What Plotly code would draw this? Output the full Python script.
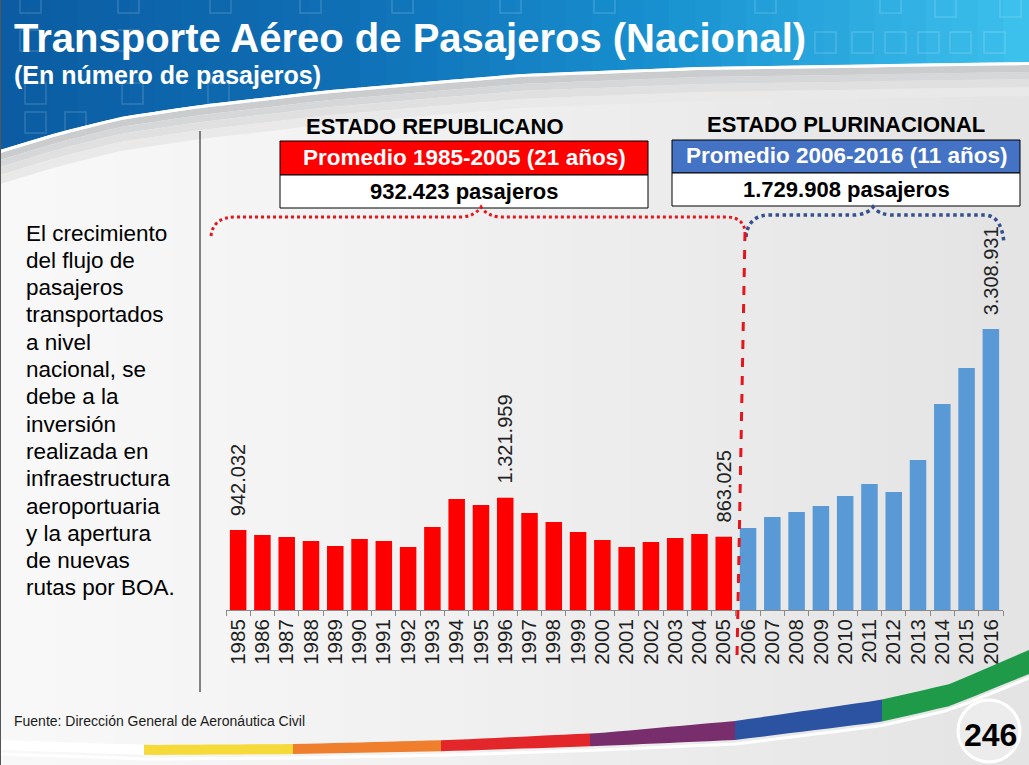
import plotly.graph_objects as go
import numpy as np

# ---------------- data ----------------
years = [str(y) for y in range(1985, 2017)]
years_rep = years[:21]
years_plu = years[21:]
pasajeros_rep = [942032, 883000, 860000, 812000, 754000, 836000, 812000, 742000,
                 977000, 1307000, 1236000, 1321959, 1142000, 1036000, 918000,
                 824000, 742000, 801000, 848000, 895000, 863025]
pasajeros_plu = [966000, 1095000, 1154000, 1225000, 1342000, 1484000, 1390000,
                 1766000, 2426000, 2850000, 3308931]
label_years = ["1985", "1996", "2005", "2016"]
label_texts = ["942.032", "1.321.959", "863.025", "3.308.931"]

title = "Transporte Aéreo de Pasajeros (Nacional)"
subtitle = "(En número de pasajeros)"
group_titles = ["ESTADO REPUBLICANO", "ESTADO PLURINACIONAL"]
group_periods = ["Promedio 1985-2005 (21 años)", "Promedio 2006-2016 (11 años)"]
group_means = ["932.423 pasajeros", "1.729.908 pasajeros"]
side_lines = ["El crecimiento", "del flujo de", "pasajeros", "transportados", "a nivel",
              "nacional, se", "debe a la", "inversión", "realizada en", "infraestructura",
              "aeroportuaria", "y la apertura", "de nuevas", "rutas por BOA."]
source = "Fuente: Dirección General de Aeronáutica Civil"
page_no = "246"

# ---------------- helpers ----------------
W, H = 1029, 765
FONT = "Liberation Sans, Arial, sans-serif"


def X(px):
    return px / W


def Y(py):
    return 1 - py / H


def hex2rgb(h):
    h = h.lstrip('#')
    return [int(h[i:i + 2], 16) for i in (0, 2, 4)]


def interp_color(x, stops):
    xs = [s[0] for s in stops]
    cs = np.array([hex2rgb(s[1]) for s in stops], dtype=float)
    r = np.interp(x, xs, cs[:, 0]); g = np.interp(x, xs, cs[:, 1]); b = np.interp(x, xs, cs[:, 2])
    return f"rgb({int(r)},{int(g)},{int(b)})"


def poly(pts):
    return "M " + " L ".join(f"{X(a):.5f},{Y(b):.5f}" for a, b in pts) + " Z"


def line_path(pts):
    return "M " + " L ".join(f"{X(a):.5f},{Y(b):.5f}" for a, b in pts)


shapes = []

# main background gradient
bg_stops = [(0, '#f9f9f9'), (450, '#f1f1f1'), (1029, '#e4e4e4')]
N = 36
for i in range(N):
    x0 = i * W / N
    x1 = (i + 1) * W / N + 1
    shapes.append(dict(type='rect', xref='paper', yref='paper', x0=X(x0), x1=X(x1), y0=0, y1=1,
                       fillcolor=interp_color((x0 + x1) / 2, bg_stops), line_width=0, layer='below'))

# header curve
cx = [0, 60, 120, 200, 330, 520, 700, 1029]
cy = [150, 132, 117, 105, 90, 74, 67, 62]


def curve(x):
    return float(np.interp(x, cx, cy))


blue_stops = [(0, '#0b5ca2'), (350, '#1070b6'), (650, '#1890d0'), (1029, '#3ec2ee')]
NB = 40
for i in range(NB):
    x0 = i * W / NB
    x1 = min((i + 1) * W / NB + 1, W)
    shapes.append(dict(type='path', xref='paper', yref='paper',
                       path=poly([(x0, 0), (x1, 0), (x1, curve(x1)), (x0, curve(x0))]),
                       fillcolor=interp_color((x0 + x1) / 2, blue_stops), line_width=0, layer='below'))

# header decorative squares
sq = [(20, -8), (118, -8), (210, -8), (300, -8), (392, -8), (500, -8), (594, -8), (755, -8), (880, -8),
      (20, 30), (118, 30), (815, 32), (852, 32), (885, 32), (918, 32), (950, 32), (984, 32),
      (25, 83), (122, 83), (208, 83), (25, 112), (65, 112), (935, -4), (1000, -4)]
for (a, b) in sq:
    shapes.append(dict(type='rect', xref='paper', yref='paper', x0=X(a), x1=X(a + 21), y0=Y(b), y1=Y(b + 21),
                       line=dict(color='rgba(255,255,255,0.16)', width=1.5), fillcolor='rgba(0,0,0,0)',
                       layer='below'))

# gray swoosh below header
xs = np.linspace(0, W, 60)
bands = [(3, 10, '#cbcccd'), (10, 17, '#d6d7d8'), (17, 25, '#e0e0e1'), (25, 34, '#e9e9ea')]
for o1, o2, col in bands:
    top = [(x, curve(x) + o1) for x in xs]
    bot = [(x, curve(x) + o2) for x in xs[::-1]]
    shapes.append(dict(type='path', xref='paper', yref='paper', path=poly(top + bot),
                       fillcolor=col, line_width=0, layer='below'))
shapes.append(dict(type='path', xref='paper', yref='paper',
                   path=line_path([(x, curve(x) + 1.5) for x in xs]),
                   line=dict(color='white', width=3), layer='below'))

# bottom coloured band
bx = [0, 150, 300, 450, 600, 735, 880, 950, 1029]
bt = [740, 745, 744, 740, 733, 721, 700, 684, 650]
bb = [750, 755, 754, 751, 746, 740, 722, 706, 674]


def btop(x):
    return float(np.interp(x, bx, bt))


def bbot(x):
    return float(np.interp(x, bx, bb))


segs = [(0, 144, '#ffffff'), (144, 293, '#f6da3a'), (293, 441, '#ef7f2c'), (441, 590, '#e2262a'),
        (590, 735, '#782e6d'), (735, 882, '#2c52a2'), (882, 1029, '#1e9a49')]
for a, b, col in segs:
    xx = np.linspace(a, b, 12)
    pts = [(x, btop(x)) for x in xx] + [(x, bbot(x)) for x in xx[::-1]]
    shapes.append(dict(type='path', xref='paper', yref='paper', path=poly(pts),
                       fillcolor=col, line_width=0, layer='below'))
xx = np.linspace(0, W, 50)
shapes.append(dict(type='path', xref='paper', yref='paper',
                   path=line_path([(x, bbot(x) + 4) for x in xx]),
                   line=dict(color='white', width=3), layer='below'))

# page number circle
shapes.append(dict(type='circle', xref='paper', yref='paper', x0=X(958), x1=X(1020), y0=Y(700), y1=Y(762),
                   line=dict(color='white', width=3), fillcolor='#ececec', layer='below'))

# left edge and separator line
shapes.append(dict(type='line', xref='paper', yref='paper', x0=X(0.5), x1=X(0.5), y0=Y(0), y1=Y(765),
                   line=dict(color='#555555', width=1)))
shapes.append(dict(type='line', xref='paper', yref='paper', x0=X(200), x1=X(200), y0=Y(131), y1=Y(692),
                   line=dict(color='#111111', width=1)))

# boxes
boxes = [((280, 648), (141, 175, 208), '#ff0000'), ((672, 1020), (140, 173, 206), '#4472c4')]
for (xa, xb), (ya, ym, yb), col in boxes:
    shapes.append(dict(type='rect', xref='paper', yref='paper', x0=X(xa), x1=X(xb), y0=Y(ya), y1=Y(ym),
                       fillcolor=col, line=dict(color='black', width=1)))
    shapes.append(dict(type='rect', xref='paper', yref='paper', x0=X(xa), x1=X(xb), y0=Y(ym), y1=Y(yb),
                       fillcolor='white', line=dict(color='black', width=1)))

# braces
red_brace = (f"M {X(211)},{Y(236)} Q {X(213)},{Y(217)} {X(236)},{Y(217)} L {X(462)},{Y(217)} "
             f"Q {X(475)},{Y(216)} {X(481)},{Y(207)} Q {X(487)},{Y(216)} {X(500)},{Y(217)} "
             f"L {X(726)},{Y(217)} Q {X(743)},{Y(217)} {X(745)},{Y(231)}")
blue_brace = (f"M {X(746)},{Y(237)} Q {X(748)},{Y(215)} {X(770)},{Y(215)} L {X(855)},{Y(215)} "
              f"Q {X(868)},{Y(214)} {X(873)},{Y(207)} Q {X(878)},{Y(214)} {X(891)},{Y(215)} "
              f"L {X(985)},{Y(215)} Q {X(1002)},{Y(216)} {X(1004)},{Y(244)}")
shapes.append(dict(type='path', xref='paper', yref='paper', path=red_brace,
                   line=dict(color='#e5161c', width=3, dash='dot')))
shapes.append(dict(type='path', xref='paper', yref='paper', path=blue_brace,
                   line=dict(color='#34508f', width=3.5, dash='dot')))

# dashed divider
shapes.append(dict(type='line', xref='paper', yref='paper', x0=X(745), y0=Y(232), x1=X(737), y1=Y(657),
                   line=dict(color='#e8141b', width=3, dash='dash')))

# ---------------- figure ----------------
fig = go.Figure()
fig.add_trace(go.Bar(x=years_rep, y=pasajeros_rep, marker=dict(color='#ff0000', line_width=0),
                     name='Estado Republicano', hoverinfo='x+y'))
fig.add_trace(go.Bar(x=years_plu, y=pasajeros_plu, marker=dict(color='#5899d6', line_width=0),
                     name='Estado Plurinacional', hoverinfo='x+y'))

all_vals = dict(zip(years, pasajeros_rep + pasajeros_plu))
annotations = []
for yr, txt in zip(label_years, label_texts):
    annotations.append(dict(x=years.index(yr), y=all_vals[yr], xref='x', yref='y', text=txt, showarrow=False,
                            textangle=-90, yanchor='bottom', xanchor='center', yshift=12,
                            font=dict(family=FONT, size=20, color='#222222')))

annotations.append(dict(x=X(12), y=Y(38), xref='paper', yref='paper', text=f"<b>{title}</b>",
                        showarrow=False, xanchor='left', yanchor='middle',
                        font=dict(family=FONT, size=40, color='white')))
annotations.append(dict(x=X(12), y=Y(75), xref='paper', yref='paper', text=f"<b>{subtitle}</b>",
                        showarrow=False, xanchor='left', yanchor='middle',
                        font=dict(family=FONT, size=25, color='white')))

centers = [464, 846]
title_x = [435, 846]
title_y = [127, 125]
period_y = [158, 156]
mean_y = [191, 189]
for i in range(2):
    annotations.append(dict(x=X(title_x[i]), y=Y(title_y[i]), xref='paper', yref='paper',
                            text=f"<b>{group_titles[i]}</b>", showarrow=False, xanchor='center',
                            yanchor='middle', font=dict(family=FONT, size=22, color='black')))
    annotations.append(dict(x=X(centers[i]), y=Y(period_y[i]), xref='paper', yref='paper',
                            text=f"<b>{group_periods[i]}</b>", showarrow=False, xanchor='center',
                            yanchor='middle', font=dict(family=FONT, size=22.5, color='white')))
    annotations.append(dict(x=X(centers[i]), y=Y(mean_y[i]), xref='paper', yref='paper',
                            text=f"<b>{group_means[i]}</b>", showarrow=False, xanchor='center',
                            yanchor='middle', font=dict(family=FONT, size=22, color='black')))

for i, ln in enumerate(side_lines):
    annotations.append(dict(x=X(24), y=Y(233 + 27.3 * i), xref='paper', yref='paper', text=ln,
                            showarrow=False, xanchor='left', yanchor='middle',
                            font=dict(family=FONT, size=22.5, color='black')))

annotations.append(dict(x=X(12), y=Y(721), xref='paper', yref='paper', text=source, showarrow=False,
                        xanchor='left', yanchor='middle', font=dict(family=FONT, size=14, color='#1a1a1a')))
annotations.append(dict(x=X(990), y=Y(735), xref='paper', yref='paper', text=f"<b>{page_no}</b>",
                        showarrow=False, xanchor='center', yanchor='middle',
                        font=dict(family=FONT, size=32, color='black')))

fig.update_layout(
    width=W, height=H, autosize=False,
    margin=dict(l=0, r=0, t=0, b=0, pad=0),
    paper_bgcolor='#eeeeee', plot_bgcolor='rgba(0,0,0,0)',
    barmode='overlay', bargap=0.32, showlegend=False,
    font=dict(family=FONT),
    xaxis=dict(domain=[X(226), X(1003)], type='category', categoryorder='array', categoryarray=years,
               range=[-0.5, len(years) - 0.5], autorange=False,
               tickmode='linear', tick0=0, dtick=1,
               tickangle=-90, tickfont=dict(family=FONT, size=20.5, color='#1e1e1e'),
               ticks='outside', tickson='boundaries', ticklen=5, tickcolor='#8a8a8a', tickwidth=1,
               showline=True, linecolor='#8a8a8a', linewidth=1, showgrid=False, zeroline=False,
               fixedrange=True),
    yaxis=dict(domain=[Y(610), Y(140)], range=[0, 5534500], autorange=False, visible=False, fixedrange=True),
    shapes=shapes, annotations=annotations,
)

fig.write_html("out.html", config={'displayModeBar': False},
               post_script="document.body.style.margin='0';document.body.style.overflow='hidden';")
